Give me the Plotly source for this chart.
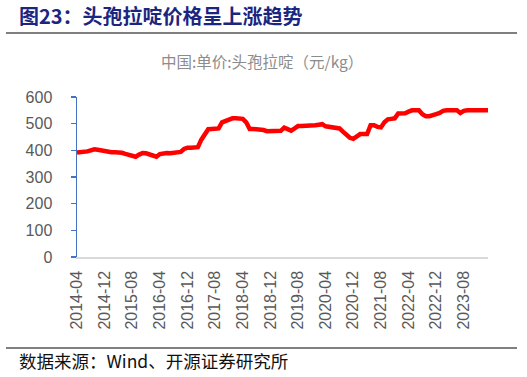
import pandas as pd
import plotly.graph_objects as go

# Monthly categories 2014-04 .. 2024-03
months = list(pd.date_range("2014-04-01", periods=120, freq="MS").strftime("%Y-%m"))

prices = [
    392, 392, 393, 396, 400, 404, 402, 399, 397, 394,
    393, 393, 393, 391, 387, 384, 380, 376, 384, 390,
    389, 385, 380, 376, 386, 390, 390, 389, 391, 393,
    394, 405, 410, 410, 410, 412, 440, 462, 479, 480,
    480, 482, 505, 510, 518, 520, 520, 520, 518, 505,
    480, 480, 480, 480, 476, 472, 472, 472, 472, 473,
    485, 480, 474, 482, 491, 491, 491, 491, 492, 494,
    496, 498, 490, 488, 486, 483, 482, 470, 456, 447,
    443, 452, 461, 461, 461, 494, 494, 488, 486, 505,
    516, 518, 520, 538, 539, 539, 545, 550, 550, 550,
    535, 528, 528, 530, 536, 540, 548, 550, 550, 550,
    550, 540, 548, 550, 550, 550, 550, 550, 550, 550,
]

tick_labels = ["2014-04", "2014-12", "2015-08", "2016-04", "2016-12",
               "2017-08", "2018-04", "2018-12", "2019-08", "2020-04",
               "2020-12", "2021-08", "2022-04", "2022-12", "2023-08"]
y_ticks = [0, 100, 200, 300, 400, 500, 600]

fig_title = "图23：头孢拉啶价格呈上涨趋势"
chart_title = "中国:单价:头孢拉啶（元/kg）"
source_text = "数据来源：Wind、开源证券研究所"

W, H = 527, 377
L, R, T, B = 77, 39, 97, 120
pw, ph = W - L - R, H - T - B

def px(x):
    return (x - L) / pw

def py(y):
    return (H - B - y) / ph

fig = go.Figure()
fig.add_trace(go.Scatter(
    x=months, y=prices, mode="lines",
    line=dict(color="#FF0000", width=4.5, shape="linear"),
    hoverinfo="skip", showlegend=False,
))

tick_font = dict(family="Liberation Sans, Arial, sans-serif", size=16, color="#595959")

fig.update_layout(
    width=W, height=H,
    margin=dict(l=L, r=R, t=T, b=B, pad=0),
    paper_bgcolor="white", plot_bgcolor="white",
    showlegend=False,
    xaxis=dict(
        type="category", range=[0, len(months) - 1],
        tickmode="array", tickvals=tick_labels, ticktext=tick_labels,
        tickangle=-90, tickfont=tick_font,
        showline=True, linecolor="#D9D9D9", linewidth=1.5,
        ticks="", showgrid=False, zeroline=False,
        ticklabelstandoff=6,
    ),
    yaxis=dict(
        range=[0, 600], tickmode="array", tickvals=y_ticks,
        tickfont=tick_font,
        showline=True, linecolor="#4472C4", linewidth=1.5,
        ticks="outside", ticklen=5, tickcolor="#4472C4", tickwidth=1.5,
        showgrid=False, zeroline=False,
        ticklabelstandoff=15,
    ),
    shapes=[
        dict(type="line", xref="paper", yref="paper",
             x0=px(6), x1=px(517), y0=py(33), y1=py(33),
             line=dict(color="#808080", width=2)),
        dict(type="line", xref="paper", yref="paper",
             x0=px(6), x1=px(517), y0=py(348), y1=py(348),
             line=dict(color="#808080", width=2)),
    ],
    annotations=[
        dict(text="<b>" + fig_title + "</b>", xref="paper", yref="paper",
             x=px(17), y=py(16), xanchor="left", yanchor="middle",
             showarrow=False,
             font=dict(family="Noto Sans CJK SC", size=20, color="#1A2680")),
        dict(text=chart_title, xref="paper", yref="paper",
             x=px(262), y=py(61), xanchor="center", yanchor="middle",
             showarrow=False,
             font=dict(family="Noto Sans CJK SC", size=15.5, color="#8C8C8C")),
        dict(text=source_text, xref="paper", yref="paper",
             x=px(17), y=py(360), xanchor="left", yanchor="middle",
             showarrow=False,
             font=dict(family="Noto Sans CJK SC", size=17.5, color="#111111")),
    ],
)

fig.write_html("out.html",
               config={"displayModeBar": False, "staticPlot": True},
               post_script="document.body.style.margin='0px';document.body.style.overflow='hidden';")
